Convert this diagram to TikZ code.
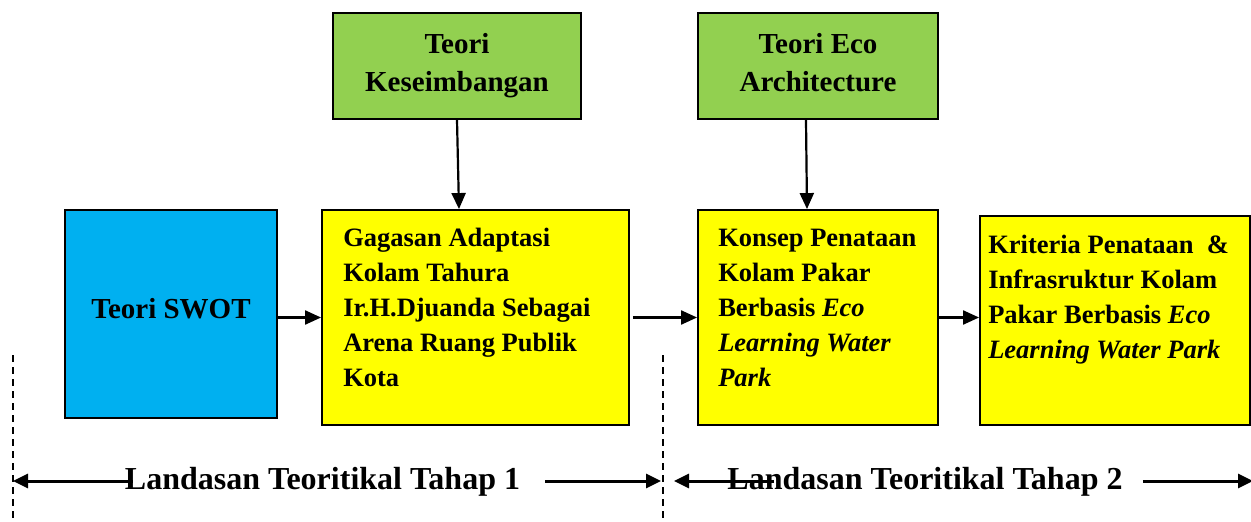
\documentclass[tikz,border=0pt]{standalone}
\usepackage{fontspec}
\setmainfont{Liberation Serif}
\usetikzlibrary{arrows.meta,positioning}
\definecolor{hijau}{HTML}{92D050}
\definecolor{biru}{HTML}{00B0F0}
\definecolor{kuning}{HTML}{FFFF00}

\begin{document}
\begin{tikzpicture}[x=1pt,y=-1pt,
    kotak/.style={draw=black, line width=1.9pt, inner sep=0pt, font=\bfseries},
    teori/.style={kotak, fill=hijau, align=center, text depth=6.3pt, font=\bfseries\fontsize{29}{38}\selectfont},
    ide/.style={kotak, fill=kuning},
    isi/.style={inner sep=0pt, align=left, anchor=north west, font=\bfseries\fontsize{26.5}{35}\selectfont},
    tahap/.style={inner sep=0pt, anchor=base, font=\bfseries\fontsize{32}{38}\selectfont},
    panah/.style={line width=2.2pt, -{Triangle[length=16pt,width=14pt]}},
    batas/.style={line width=3pt, -{Triangle[length=15pt,width=14pt]}},
    garis/.style={line width=1.4pt, dash pattern=on 7pt off 5pt}]

    % Bidang gambar
    \useasboundingbox (0,0) rectangle (1251,522);

    % Teori di atas
    \node[teori, minimum width=248, minimum height=106] (keseimbangan) at (457,66) {Teori\\Keseimbangan};
    \node[teori, minimum width=240, minimum height=106] (eco) at (818,66) {Teori Eco\\Architecture};

    % Kotak utama
    \node[kotak, fill=biru, minimum width=212, minimum height=208, text depth=12pt,
          font=\bfseries\fontsize{29}{35}\selectfont] (swot) at (171,314) {Teori SWOT};
    \node[ide, minimum width=307, minimum height=215] (gagasan) at (475.5,317.5) {};
    \node[ide, minimum width=240, minimum height=215] (konsep) at (818,317.5) {};
    \node[ide, minimum width=270, minimum height=209] (kriteria) at (1115,320.5) {};

    % Isi kotak kuning
    \node[isi] (gagasanteks) at ([shift={(22,19)}]gagasan.north west)
        {Gagasan Adaptasi\\Kolam Tahura\\Ir.H.Djuanda Sebagai\\Arena Ruang Publik\\Kota};
    \node[isi] (konsepteks) at ([shift={(21,20)}]konsep.north west)
        {Konsep Penataan\\Kolam Pakar\\Berbasis \textit{Eco}\\\textit{Learning Water}\\\textit{Park}};
    \node[isi] (kriteriateks) at ([shift={(9,20)}]kriteria.north west)
        {Kriteria Penataan\ \ \&\\Infrasruktur Kolam\\Pakar Berbasis \textit{Eco}\\\textit{Learning Water Park}};

    % Panah antar kotak
    \draw[panah] (swot.east |- gagasan.west) -- (gagasan.west);
    \draw[panah] ([xshift=3pt]gagasan.east) -- (konsep.west);
    \draw[panah] (konsep.east) -- (konsep.east -| kriteria.west);
    \draw[panah] (keseimbangan.south) -- ([xshift=2pt]keseimbangan.south |- gagasan.north);
    \draw[panah] ([xshift=-12pt]eco.south) -- ([xshift=-11pt]eco.south |- konsep.north);

    % Garis putus-putus
    \coordinate (garis1a) at (13,355);
    \coordinate (garis1b) at (13,522);
    \coordinate (garis2a) at (663,355);
    \coordinate (garis2b) at (663,522);
    \draw[garis] (garis1a) -- (garis1b);
    \draw[garis] (garis2a) -- (garis2b);

    % Tahap
    \node[tahap] (tahap1) at (322.5,489) {Landasan Teoritikal Tahap 1};
    \node[tahap] (tahap2) at (925,489) {Landasan Teoritikal Tahap 2};
    \coordinate (kiri1) at (13,481);
    \coordinate (kanan1) at (661,481);
    \coordinate (kiri2) at (674,481);
    \coordinate (kanan2) at (1253,481);
    \draw[batas] ([xshift=8pt]tahap1.west |- kiri1) -- (kiri1);
    \draw[batas] ([xshift=25pt]tahap1.east |- kanan1) -- (kanan1);
    \draw[batas] ([xshift=47pt]tahap2.west |- kiri2) -- (kiri2);
    \draw[batas] ([xshift=20pt]tahap2.east |- kanan2) -- (kanan2);
\end{tikzpicture}
\end{document}
